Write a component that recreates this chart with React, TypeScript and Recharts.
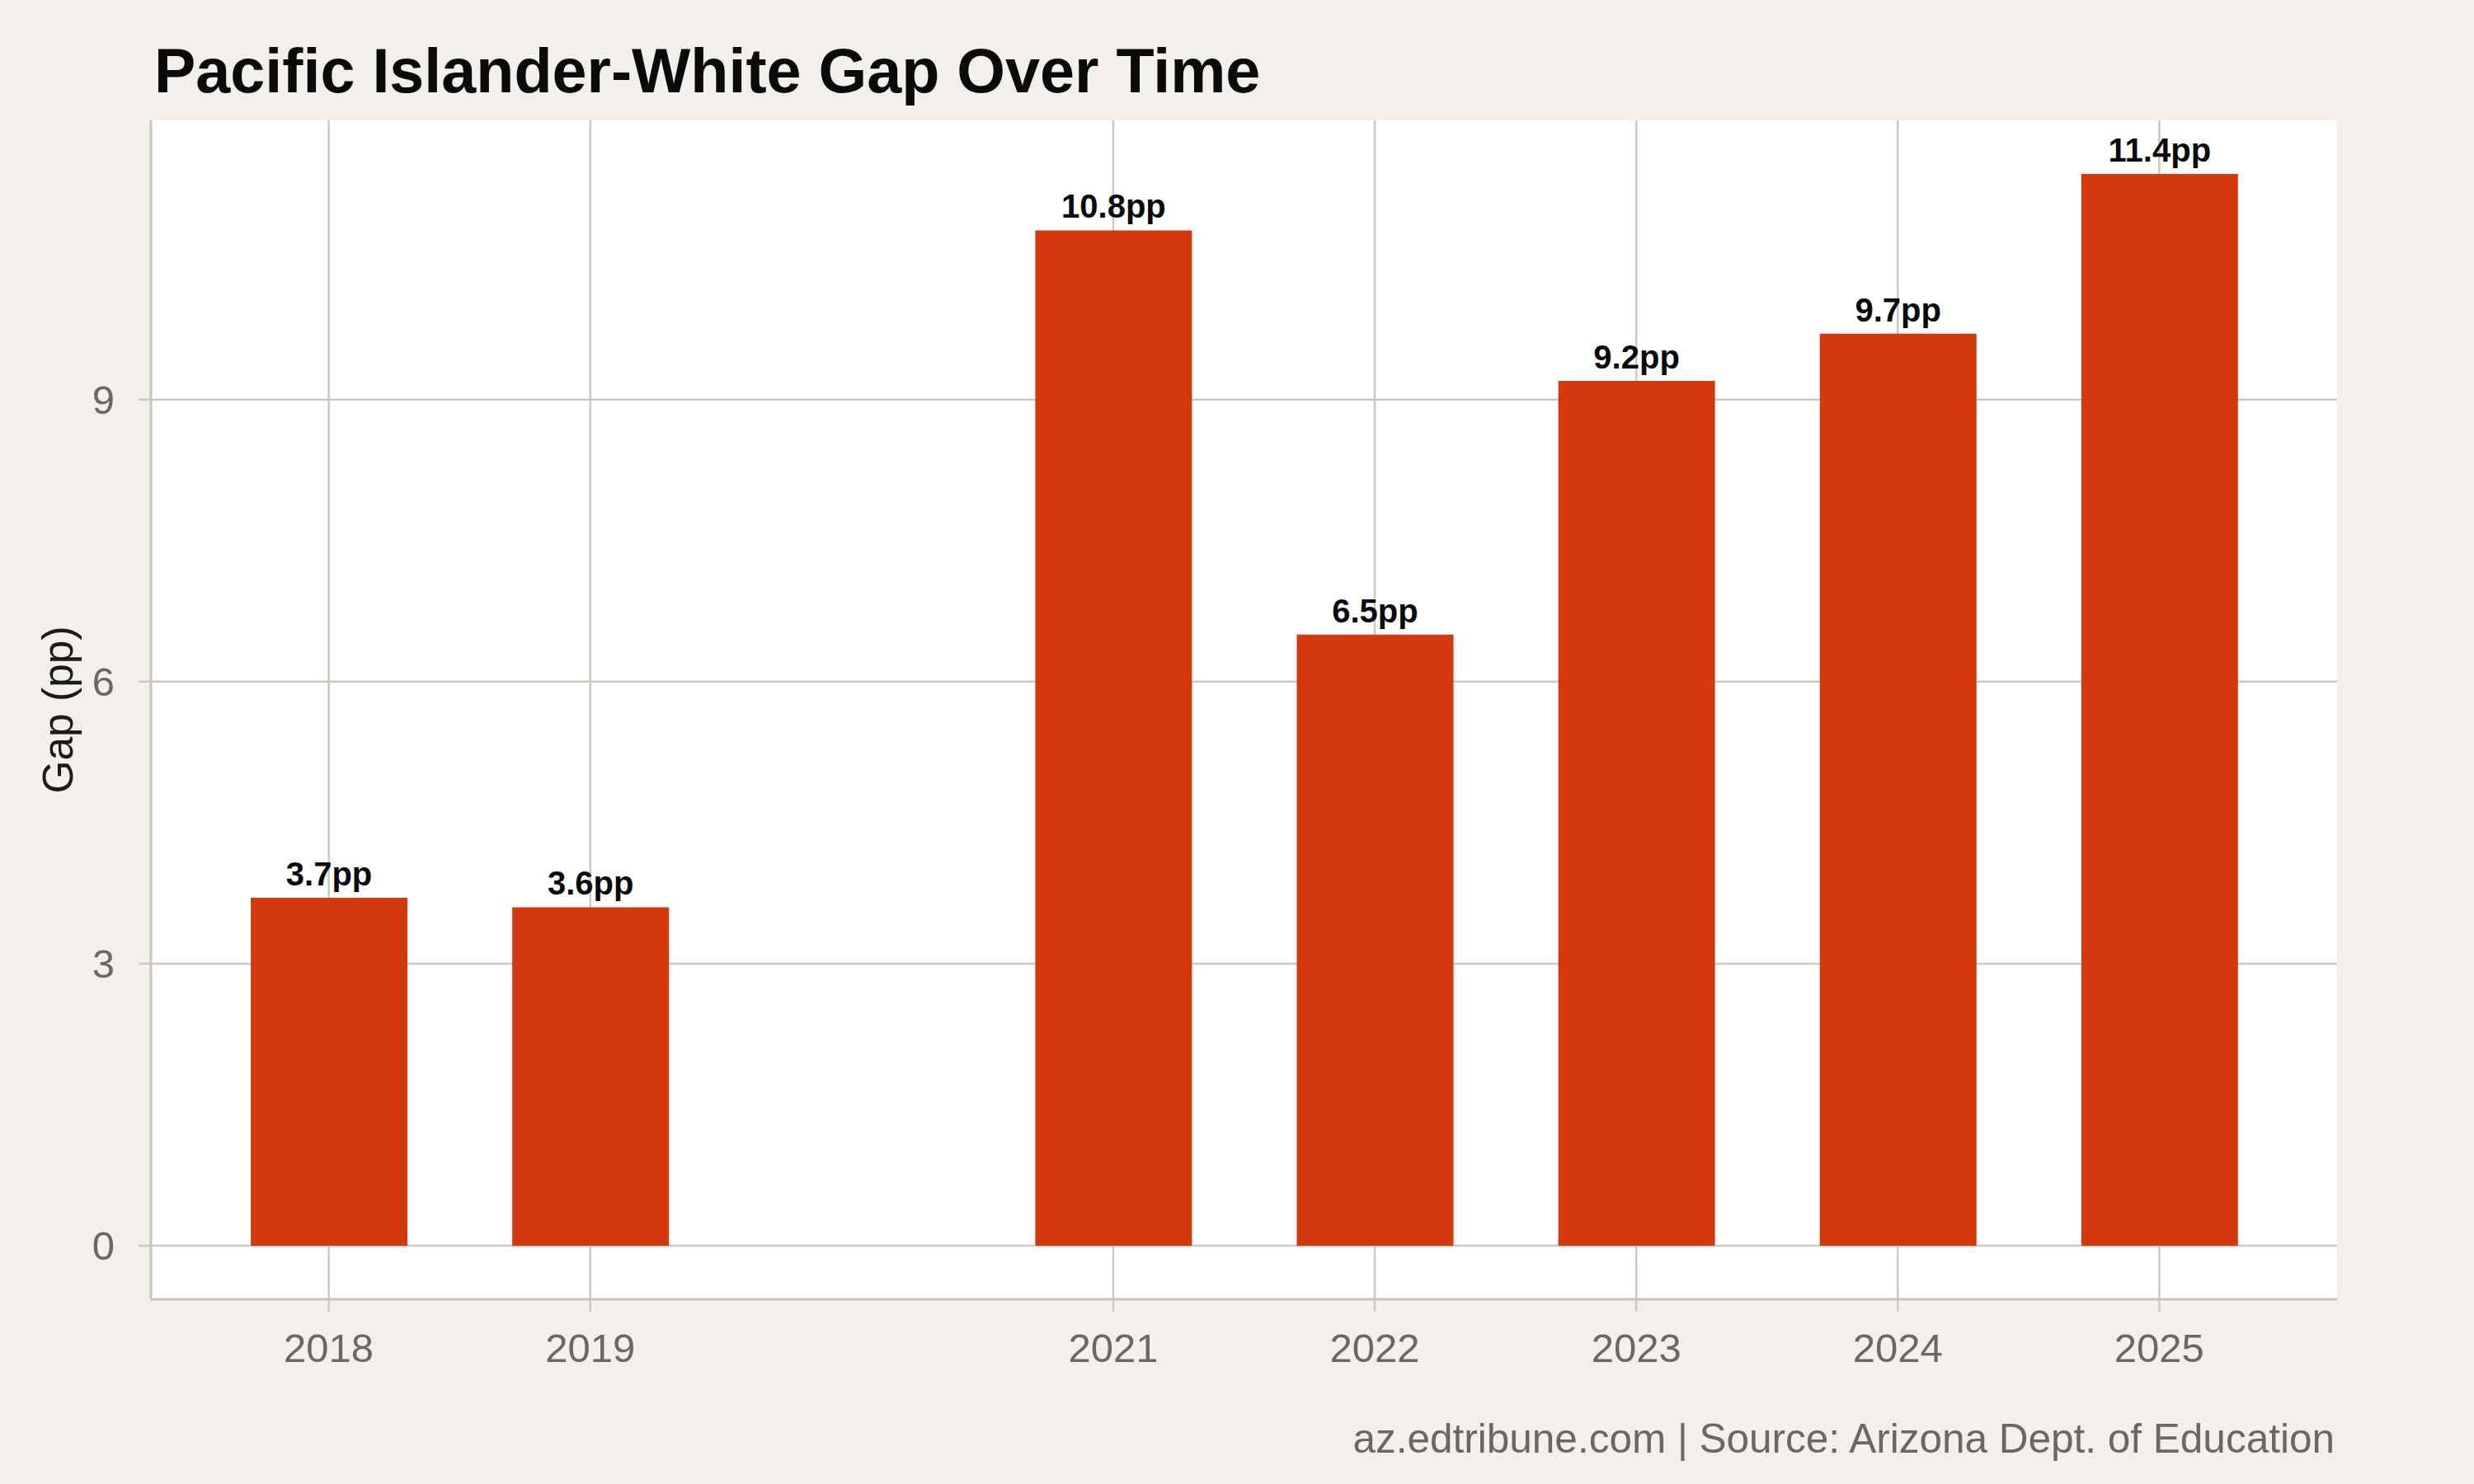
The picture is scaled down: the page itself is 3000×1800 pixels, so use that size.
import { BarChart, Bar, XAxis, YAxis, CartesianGrid, LabelList } from 'recharts';

const years = [2018, 2019, 2021, 2022, 2023, 2024, 2025];
const gaps = [3.7, 3.6, 10.8, 6.5, 9.2, 9.7, 11.4];
const yTicks = [0, 3, 6, 9];

const data = years.map((year, i) => ({ year, gap: gaps[i] }));

const W = 3000;
const H = 1800;
const FONT = '"Liberation Sans", Arial, Helvetica, sans-serif';
const BG = '#F3F0EB';
const GRID = '#CDC8C0';
const AXIS = '#C9C4BB';
const TICK_TEXT = '#6B6761';
const BAR = '#D4380D';

// plot box (ggplot-style expanded limits)
const plotLeft = 183;
const plotRight = 2834;
const plotTop = 146;
const plotBottom = 1576;
const xDomain: [number, number] = [2017.32, 2025.68];
const yDomain: [number, number] = [-0.57, 11.97];
const barSize = Math.round(((plotRight - plotLeft) / (xDomain[1] - xDomain[0])) * 0.6);

export default function App() {
	return (
		<div style={{ position: 'relative', width: W, height: H, background: BG, fontFamily: FONT }}>
			<style>{'body{margin:0}'}</style>
			<BarChart
				width={W}
				height={H}
				data={data}
				margin={{ top: plotTop, right: W - plotRight, bottom: 0, left: 0 }}
				style={{ position: 'absolute', left: 0, top: 0 }}
			>
				<CartesianGrid fill="#ffffff" stroke={GRID} strokeWidth={2.5} syncWithTicks />
				<XAxis
					dataKey="year"
					type="number"
					scale="linear"
					domain={xDomain}
					allowDataOverflow
					ticks={years}
					interval={0}
					height={H - plotBottom}
					axisLine={{ stroke: AXIS, strokeWidth: 3 }}
					tickLine={{ stroke: GRID, strokeWidth: 2.5 }}
					tickSize={15}
					tickMargin={26}
					tick={{ fill: TICK_TEXT, fontSize: 49, fontFamily: FONT }}
				/>
				<YAxis
					type="number"
					domain={yDomain}
					allowDataOverflow
					ticks={yTicks}
					interval={0}
					width={plotLeft}
					axisLine={{ stroke: AXIS, strokeWidth: 3 }}
					tickLine={{ stroke: GRID, strokeWidth: 2.5 }}
					tickSize={15}
					tickMargin={29}
					tick={{ fill: TICK_TEXT, fontSize: 49, fontFamily: FONT }}
				/>
				<Bar dataKey="gap" fill={BAR} barSize={barSize} isAnimationActive={false}>
					<LabelList
						dataKey="gap"
						position="top"
						offset={15}
						formatter={(v: any) => `${Number(v).toFixed(1)}pp`}
						fill="#0a0a0a"
						fontSize={40}
						fontWeight="bold"
						fontFamily={FONT}
					/>
				</Bar>
			</BarChart>
			<svg
				width={W}
				height={H}
				style={{ position: 'absolute', left: 0, top: 0, pointerEvents: 'none' }}
			>
				<text x={187} y={112} fontSize={75.5} fontWeight="bold" fill="#0a0a0a" fontFamily={FONT}>
					Pacific Islander-White Gap Over Time
				</text>
				<text
					transform={`translate(88, ${(plotTop + plotBottom) / 2}) rotate(-90)`}
					textAnchor="middle"
					fontSize={51.5}
					fill="#1a1a1a"
					fontFamily={FONT}
				>
					Gap (pp)
				</text>
				<text
					x={2831}
					y={1762}
					textAnchor="end"
					fontSize={49.5}
					fill={TICK_TEXT}
					fontFamily={FONT}
				>
					az.edtribune.com | Source: Arizona Dept. of Education
				</text>
			</svg>
		</div>
	);
}
